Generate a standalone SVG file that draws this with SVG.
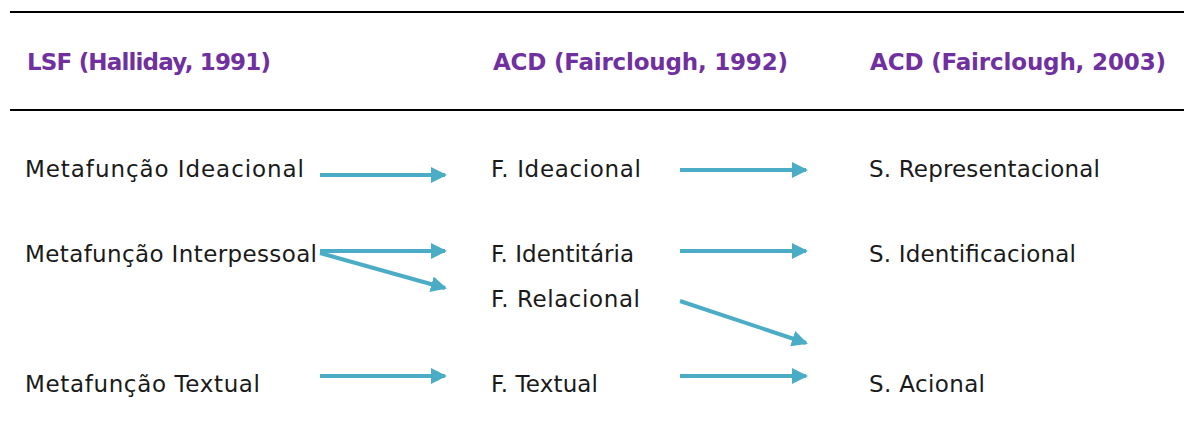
<svg xmlns="http://www.w3.org/2000/svg" width="1184" height="432" viewBox="0 0 1184 432">
<defs>
<style>
.h{font-family:"DejaVu Sans",sans-serif;font-weight:bold;font-size:23px;fill:#7030A0}
.t{font-family:"DejaVu Sans",sans-serif;font-size:23px;fill:#1a1a1a}
.a{stroke:#4BACC6;stroke-width:4;fill:none;marker-end:url(#ah)}
.rule{stroke:#000;stroke-width:2}
</style>
<marker id="ah" markerWidth="5" markerHeight="5" refX="3.5" refY="2" orient="auto" markerUnits="strokeWidth">
<path d="M0,0 L4,2 L0,4 Z" fill="#4BACC6"/>
</marker>
</defs>
<line class="rule" x1="10" y1="12" x2="1184" y2="12"/>
<line class="rule" x1="10" y1="110" x2="1184" y2="110"/>
<g id="headers">
<text class="h" x="27" y="70" textLength="244" lengthAdjust="spacing">LSF (Halliday, 1991)</text>
<text class="h" x="493" y="70" textLength="295" lengthAdjust="spacing">ACD (Fairclough, 1992)</text>
<text class="h" x="870" y="70" textLength="296" lengthAdjust="spacing">ACD (Fairclough, 2003)</text>
</g>
<g id="n1"><text class="t" x="25" y="177" textLength="279" lengthAdjust="spacing">Metafunção Ideacional</text></g>
<g id="n2"><text class="t" x="25" y="262" textLength="292" lengthAdjust="spacing">Metafunção Interpessoal</text></g>
<g id="n3"><text class="t" x="25" y="392" textLength="235" lengthAdjust="spacing">Metafunção Textual</text></g>
<g id="n4"><text class="t" x="491" y="177" textLength="150" lengthAdjust="spacing">F. Ideacional</text></g>
<g id="n5"><text class="t" x="491" y="262" textLength="143" lengthAdjust="spacing">F. Identitária</text></g>
<g id="n6"><text class="t" x="491" y="307" textLength="149" lengthAdjust="spacing">F. Relacional</text></g>
<g id="n7"><text class="t" x="491" y="392" textLength="107" lengthAdjust="spacing">F. Textual</text></g>
<g id="n8"><text class="t" x="869" y="177" textLength="231" lengthAdjust="spacing">S. Representacional</text></g>
<g id="n9"><text class="t" x="869" y="262" textLength="207" lengthAdjust="spacing">S. Identificacional</text></g>
<g id="n10"><text class="t" x="869" y="392" textLength="116" lengthAdjust="spacing">S. Acional</text></g>
<g id="connectors">
<line class="a" x1="320" y1="175" x2="445" y2="175"/>
<line class="a" x1="320" y1="251" x2="445" y2="251"/>
<line class="a" x1="320" y1="253" x2="445" y2="288"/>
<line class="a" x1="320" y1="376" x2="445" y2="376"/>
<line class="a" x1="680" y1="170" x2="806" y2="170"/>
<line class="a" x1="680" y1="251" x2="806" y2="251"/>
<line class="a" x1="680" y1="301" x2="806" y2="343"/>
<line class="a" x1="680" y1="376" x2="806" y2="376"/>
</g>
</svg>
